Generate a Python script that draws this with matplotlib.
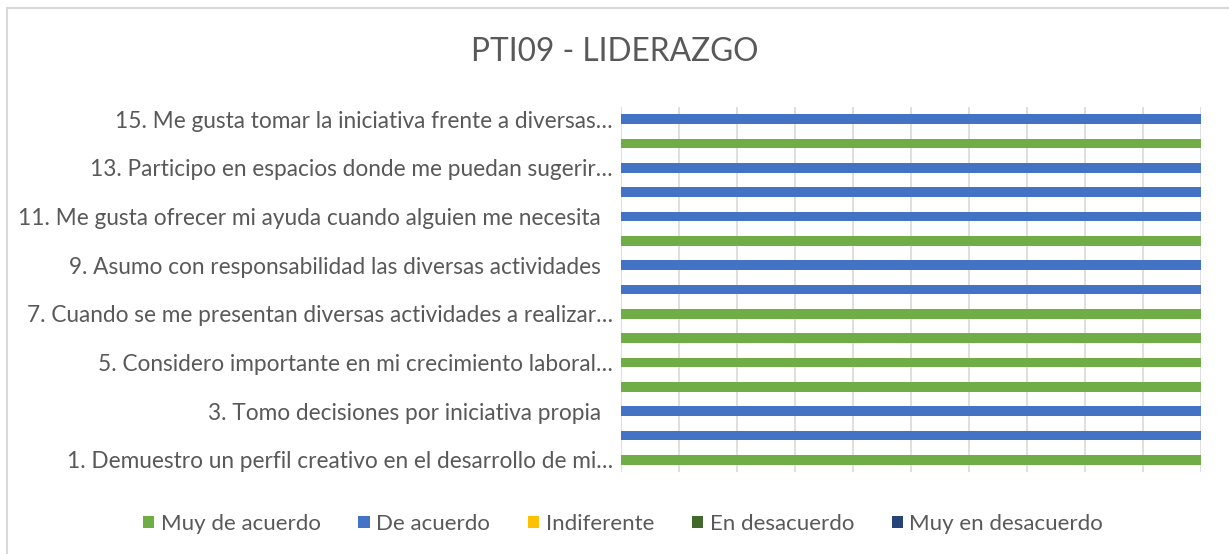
import matplotlib
matplotlib.use('Agg')
from matplotlib import pyplot as plt
from matplotlib.patches import Patch, Rectangle

### Set MPL plot parameters
plt.rcParams['font.family'] = ['Lato', 'DejaVu Sans']
plt.rcParams['figure.dpi'] = 100

### Data
# Items of the survey (only the odd ones carry a visible label)
items = list(range(1, 16))
item_labels = {
	1: '1. Demuestro un perfil creativo en el desarrollo de mi…',
	3: '3. Tomo decisiones por iniciativa propia  ',
	5: '5. Considero importante en mi crecimiento laboral…',
	7: '7. Cuando se me presentan diversas actividades a realizar…',
	9: '9. Asumo con responsabilidad las diversas actividades  ',
	11: '11. Me gusta ofrecer mi ayuda cuando alguien me necesita  ',
	13: '13. Participo en espacios donde me puedan sugerir…',
	15: '15. Me gusta tomar la iniciativa frente a diversas…',
}

# Percentage of answers per item (1..15)
muy_de_acuerdo    = [100, 0, 0, 100, 100, 100, 100, 0, 0, 100, 0, 0, 0, 100, 0]
de_acuerdo        = [0, 100, 100, 0, 0, 0, 0, 100, 100, 0, 100, 100, 100, 0, 100]
indiferente       = [0] * 15
en_desacuerdo     = [0] * 15
muy_en_desacuerdo = [0] * 15

series = [
	('Muy de acuerdo', muy_de_acuerdo, '#70AD47'),
	('De acuerdo', de_acuerdo, '#4472C4'),
	('Indiferente', indiferente, '#FFC000'),
	('En desacuerdo', en_desacuerdo, '#43682B'),
	('Muy en desacuerdo', muy_en_desacuerdo, '#264478'),
]

### Initiate plot
fig = plt.figure(figsize=(12.29, 5.54))
ax = fig.add_axes([621/1229, 1 - 472/554, (1201 - 621)/1229, (472 - 107)/554])

# Chart border
fig.patches.append(Rectangle((7/1229, -0.05), 1.1, 1 - 8/554 + 0.05, transform=fig.transFigure,
	fill=False, edgecolor='#d9d9d9', linewidth=1.5))

# Stacked horizontal bars
left = [0] * 15
for name, vals, clr in series:
	ax.barh(items, vals, left=left, height=0.4, color=clr, label=name, zorder=3)
	left = [l + v for l, v in zip(left, vals)]

# Axis limits & grid
ax.set_xlim(0, 100)
ax.set_ylim(0.5, 15.5)
for x in range(0, 101, 10):
	ax.axvline(x, color='#d9d9d9', linewidth=1.2, zorder=1)

for s in ax.spines.values():
	s.set_visible(False)

ax.set_xticks([])
ax.set_yticks(sorted(item_labels))
ax.set_yticklabels([item_labels[k] for k in sorted(item_labels)], fontsize=16.3, color='#595959')
ax.tick_params(axis='y', length=0, pad=6)

# Title
fig.text(0.5, 1 - 52/554, 'PTI09 - LIDERAZGO', ha='center', va='center', fontsize=22.8, color='#595959')

# Legend
handles = [Patch(facecolor=clr, label=name) for name, vals, clr in series]
fig.legend(handles=handles, loc='center', bbox_to_anchor=(0.507, 1 - 524/554), ncol=5, frameon=False,
	fontsize=16, handlelength=0.5, handleheight=0.5, handletextpad=0.3, columnspacing=1.7,
	labelcolor='#595959')

plt.savefig('out.png', dpi=100)
